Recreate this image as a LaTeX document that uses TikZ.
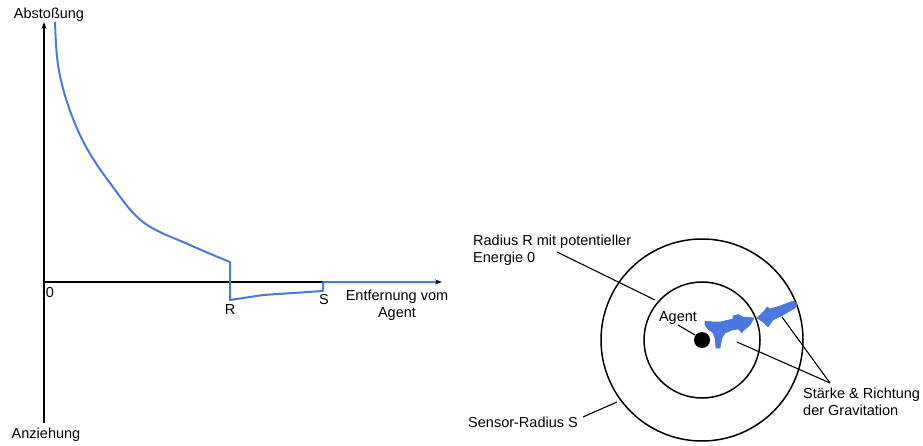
\documentclass[tikz,border=0pt]{standalone}
\usepackage{fontspec}
\setmainfont{Liberation Sans}
\usetikzlibrary{arrows.meta}
\definecolor{curveblue}{RGB}{74,120,222}
\begin{document}
\begin{tikzpicture}[x=1pt,y=-1pt,
  lbl/.style={inner sep=0pt,font=\fontsize{14.5}{17}\selectfont},
  axisline/.style={line width=1.2pt,-{Stealth[length=7pt,width=5pt]}},
  thin/.style={line width=1.1pt},
  blueline/.style={curveblue,line width=2pt,line join=round},
  bluefill/.style={fill=curveblue,draw=curveblue,line width=0.6pt,line join=round}]
\useasboundingbox (0,0) rectangle (923,446);
% ---------- left: graph ----------
\coordinate (yb) at (44,423);
\coordinate (yt) at (44,22);
\coordinate (xl) at (44,282);
\coordinate (xr) at (442,282);
\draw[axisline] (yb) -- (yt);
\draw[axisline] (xl) -- (xr);
\draw[blueline] plot[smooth,tension=0.6] coordinates {(55,22) (58,65) (68,105) (85,145) (110,183) (143,222) (190,245) (230,262)}
  -- (230,300) -- (263,295) -- (323,291) -- (323,282) -- (436,282);
\node[lbl] (abst) at (49,15) {Abstoßung};
\node[lbl] (anz) at (46,435) {Anziehung};
\node[lbl] (zero) at (50,293) {0};
\node[lbl] (R) at (230,310) {R};
\node[lbl] (S) at (324,300) {S};
\node[lbl,align=center] (entf) at (397,305) {Entfernung vom\\Agent};
% ---------- right: circles ----------
\coordinate (c) at (702,340);
\node[circle,draw,line width=1.5pt,minimum size=202pt,inner sep=0pt] (outer) at (c) {};
\node[circle,draw,line width=1.5pt,minimum size=116pt,inner sep=0pt] (inner) at (c) {};
\node[circle,fill=black,minimum size=16pt,inner sep=0pt] (dot) at (c) {};
% blue arrows
\path[bluefill] (705,321) -- (713,322) -- (720,322) -- (733,319) -- (733,316) -- (738,314.5)
  -- (743,317) -- (754,318) -- (750,325) -- (743,331) -- (742,333) -- (738,329)
  -- (732,330) -- (725,333) -- (722,338) -- (720,348) -- (716,348) -- (715,338)
  -- (713,333) -- (708,329) -- (705,325) -- cycle;
\path[bluefill] (757,318) -- (765,310) -- (767,307) -- (770,309) -- (780,306)
  -- (793,301) -- (797,304) -- (795,308) -- (783,315) -- (773,320) -- (768,327)
  -- (763,322) -- cycle;
% labels
\node[lbl,align=left,anchor=west] (radR) at (473,250) {Radius R mit potentieller\\Energie 0};
\node[lbl] (agent) at (678,318) {Agent};
\node[lbl,anchor=west] (sens) at (468,422) {Sensor-Radius S};
\node[lbl,align=left,anchor=west] (grav) at (803,401.5) {Stärke \& Richtung\\der Gravitation};
\coordinate (radRend) at (557,252);
\coordinate (innerpt) at (655,300);
\coordinate (sensend) at (583,417);
\coordinate (outerpt) at (617,402);
\coordinate (gravend) at (830,383);
\coordinate (g1) at (737,342);
\coordinate (g2) at (782,317);
\coordinate (agentend) at (678,325);
\coordinate (dotpt) at (695,335);
\draw[thin] (radRend) -- (innerpt);
\draw[thin] (sensend) -- (outerpt);
\draw[thin] (gravend) -- (g1);
\draw[thin] (gravend) -- (g2);
\draw[thin] (agentend) -- (dotpt);
\end{tikzpicture}
\end{document}
